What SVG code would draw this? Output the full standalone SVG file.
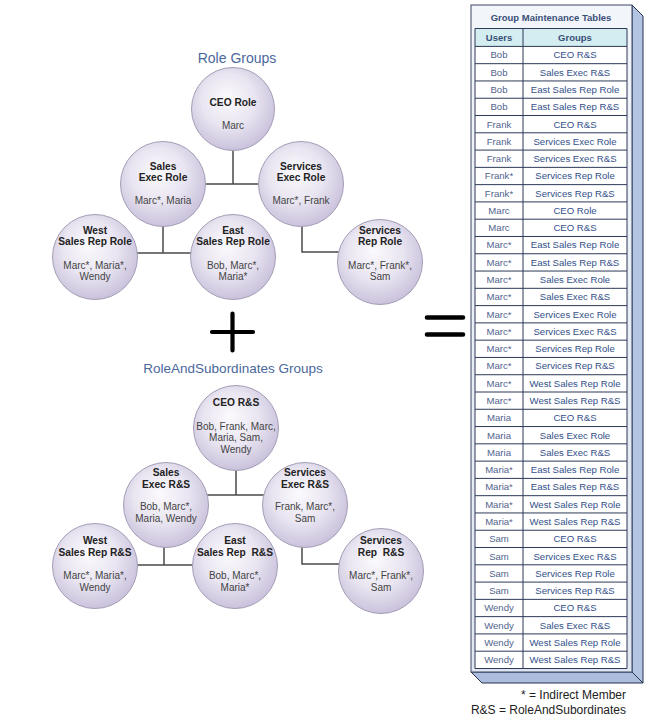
<svg xmlns="http://www.w3.org/2000/svg" width="651" height="722" viewBox="0 0 651 722">
<defs>
<radialGradient id="bub" cx="0.46" cy="0.42" r="0.58" fx="0.42" fy="0.36">
<stop offset="0" stop-color="#fbfafd"/>
<stop offset="0.55" stop-color="#e9e5f1"/>
<stop offset="1" stop-color="#cac2dc"/>
</radialGradient>
<linearGradient id="front" x1="0" y1="0" x2="0" y2="1">
<stop offset="0" stop-color="#f2f5fa"/>
<stop offset="1" stop-color="#e1e7f2"/>
</linearGradient>
</defs>
<style>
text{font-family:"Liberation Sans",Arial,sans-serif;text-anchor:middle}
.bub{fill:url(#bub);stroke:#a49db6;stroke-width:1}
.t{font-size:10.2px;font-weight:bold;fill:#222}
.m{font-size:10px;fill:#444}
.h{font-size:14px;fill:#4a689b}
.con{fill:none;stroke:#4a4a4a;stroke-width:1.5}
.op{fill:none;stroke:#000;stroke-width:4.2;stroke-linecap:round}
.side{fill:#b2c4e2;stroke:#27334e;stroke-width:1}
.tb{font-size:9.5px;font-weight:bold;fill:#3a5078}
.u{font-size:9.6px;fill:#52648e}
.g{font-size:9.6px;fill:#33508a}
.grid{fill:none;stroke:#2c3957;stroke-width:1}
.fn{font-size:12px;fill:#222;text-anchor:end}
</style>
<rect width="651" height="722" fill="#fff"/>

<text class="h" x="237" y="63">Role Groups</text>
<text class="h" x="233" y="373" style="font-size:13.5px">RoleAndSubordinates Groups</text>

<g id="connectors">
<path class="con" d="M233 150V184M163 184H301M163 226V253M95 253H233M302 226V252H380"/>
<path class="con" d="M236 470V495M166 495H305M164 547V565M95 565H235M302 547V564H381"/>
</g>

<g id="ceo-role"><circle class="bub" cx="233" cy="109" r="41.5"/>
<text class="t" x="233" y="105.5">CEO Role</text><text class="m" x="233" y="128.5">Marc</text></g>
<g id="sales-exec-role"><circle class="bub" cx="163" cy="184" r="42.5"/>
<text class="t" x="163" y="169.5">Sales</text><text class="t" x="163" y="181">Exec Role</text><text class="m" x="163" y="204">Marc*, Maria</text></g>
<g id="services-exec-role"><circle class="bub" cx="301" cy="184" r="42.5"/>
<text class="t" x="301" y="169.5">Services</text><text class="t" x="301" y="181">Exec Role</text><text class="m" x="301" y="204">Marc*, Frank</text></g>
<g id="west-sales-rep-role"><circle class="bub" cx="95" cy="257" r="42.5"/>
<text class="t" x="95" y="233.5">West</text><text class="t" x="95" y="245">Sales Rep Role</text><text class="m" x="95" y="268.5">Marc*, Maria*,</text><text class="m" x="95" y="280">Wendy</text></g>
<g id="east-sales-rep-role"><circle class="bub" cx="233" cy="257" r="42.5"/>
<text class="t" x="233" y="233.5">East</text><text class="t" x="233" y="245">Sales Rep Role</text><text class="m" x="233" y="268.5">Bob, Marc*,</text><text class="m" x="233" y="280">Maria*</text></g>
<g id="services-rep-role"><circle class="bub" cx="380" cy="262" r="42.5"/>
<text class="t" x="380" y="233.5">Services</text><text class="t" x="380" y="245">Rep Role</text><text class="m" x="380" y="268.5">Marc*, Frank*,</text><text class="m" x="380" y="280">Sam</text></g>

<g id="ceo-rs"><circle class="bub" cx="236" cy="428" r="42.5"/>
<text class="t" x="236" y="406">CEO R&amp;S</text><text class="m" x="236" y="429.5">Bob, Frank, Marc,</text><text class="m" x="236" y="441">Maria, Sam,</text><text class="m" x="236" y="452.5">Wendy</text></g>
<g id="sales-exec-rs"><circle class="bub" cx="166" cy="505" r="42.5"/>
<text class="t" x="166" y="476">Sales</text><text class="t" x="166" y="487.5">Exec R&amp;S</text><text class="m" x="166" y="510">Bob, Marc*,</text><text class="m" x="166" y="521.5">Maria, Wendy</text></g>
<g id="services-exec-rs"><circle class="bub" cx="305" cy="505" r="42.5"/>
<text class="t" x="305" y="476">Services</text><text class="t" x="305" y="487.5">Exec R&amp;S</text><text class="m" x="305" y="510">Frank, Marc*,</text><text class="m" x="305" y="521.5">Sam</text></g>
<g id="west-sales-rep-rs"><circle class="bub" cx="95" cy="566" r="42.5"/>
<text class="t" x="95" y="544">West</text><text class="t" x="95" y="555.5">Sales Rep R&amp;S</text><text class="m" x="95" y="579">Marc*, Maria*,</text><text class="m" x="95" y="590.5">Wendy</text></g>
<g id="east-sales-rep-rs"><circle class="bub" cx="235" cy="566" r="42.5"/>
<text class="t" x="235" y="544">East</text><text class="t" x="235" y="555.5" xml:space="preserve">Sales Rep  R&amp;S</text><text class="m" x="235" y="579">Bob, Marc*,</text><text class="m" x="235" y="590.5">Maria*</text></g>
<g id="services-rep-rs"><circle class="bub" cx="381" cy="571" r="42.5"/>
<text class="t" x="381" y="544">Services</text><text class="t" x="381" y="555.5" xml:space="preserve">Rep  R&amp;S</text><text class="m" x="381" y="579">Marc*, Frank*,</text><text class="m" x="381" y="590.5">Sam</text></g>

<g id="plus"><path class="op" d="M212 332H253M232.5 313.5V350.5"/></g>
<g id="equals"><path class="op" d="M427 317.5H463M427 334.5H463" style="stroke-width:4.6"/></g>

<g id="table">
<polygon class="side" points="632,5 643,16 643,683 632,672"/>
<polygon class="side" points="471,672 632,672 643,683 482,683" style="fill:#abbedd"/>
<rect x="471" y="5" width="161" height="667" fill="url(#front)" stroke="#3a4762" stroke-width="1"/>
<text class="tb" x="551" y="20.5">Group Maintenance Tables</text>
<rect x="475" y="28.5" width="152" height="17.9" fill="#d4edf0"/>
<rect x="475" y="46.4" width="152" height="622.1" fill="#fff"/>
<text class="tb" x="499" y="41">Users</text>
<text class="tb" x="575" y="41">Groups</text>
<path class="grid" d="M475 28.5H627V668.5H475ZM523 28.5V668.5M475 46.4H627M475 63.68H627M475 80.96H627M475 98.24H627M475 115.52H627M475 132.8H627M475 150.08H627M475 167.36H627M475 184.64H627M475 201.92H627M475 219.2H627M475 236.48H627M475 253.76H627M475 271.04H627M475 288.32H627M475 305.6H627M475 322.88H627M475 340.16H627M475 357.44H627M475 374.72H627M475 392H627M475 409.28H627M475 426.56H627M475 443.84H627M475 461.12H627M475 478.4H627M475 495.68H627M475 512.96H627M475 530.24H627M475 547.52H627M475 564.8H627M475 582.08H627M475 599.36H627M475 616.64H627M475 633.92H627M475 651.2H627"/>
<g class="rows">
<text class="u" x="499" y="58.4">Bob</text><text class="g" x="575" y="58.4">CEO R&amp;S</text>
<text class="u" x="499" y="75.68">Bob</text><text class="g" x="575" y="75.68">Sales Exec R&amp;S</text>
<text class="u" x="499" y="92.96">Bob</text><text class="g" x="575" y="92.96">East Sales Rep Role</text>
<text class="u" x="499" y="110.24">Bob</text><text class="g" x="575" y="110.24">East Sales Rep R&amp;S</text>
<text class="u" x="499" y="127.52">Frank</text><text class="g" x="575" y="127.52">CEO R&amp;S</text>
<text class="u" x="499" y="144.8">Frank</text><text class="g" x="575" y="144.8">Services Exec Role</text>
<text class="u" x="499" y="162.08">Frank</text><text class="g" x="575" y="162.08">Services Exec R&amp;S</text>
<text class="u" x="499" y="179.36">Frank*</text><text class="g" x="575" y="179.36">Services Rep Role</text>
<text class="u" x="499" y="196.64">Frank*</text><text class="g" x="575" y="196.64">Services Rep R&amp;S</text>
<text class="u" x="499" y="213.92">Marc</text><text class="g" x="575" y="213.92">CEO Role</text>
<text class="u" x="499" y="231.2">Marc</text><text class="g" x="575" y="231.2">CEO R&amp;S</text>
<text class="u" x="499" y="248.48">Marc*</text><text class="g" x="575" y="248.48">East Sales Rep Role</text>
<text class="u" x="499" y="265.76">Marc*</text><text class="g" x="575" y="265.76">East Sales Rep R&amp;S</text>
<text class="u" x="499" y="283.04">Marc*</text><text class="g" x="575" y="283.04">Sales Exec Role</text>
<text class="u" x="499" y="300.32">Marc*</text><text class="g" x="575" y="300.32">Sales Exec R&amp;S</text>
<text class="u" x="499" y="317.6">Marc*</text><text class="g" x="575" y="317.6">Services Exec Role</text>
<text class="u" x="499" y="334.88">Marc*</text><text class="g" x="575" y="334.88">Services Exec R&amp;S</text>
<text class="u" x="499" y="352.16">Marc*</text><text class="g" x="575" y="352.16">Services Rep Role</text>
<text class="u" x="499" y="369.44">Marc*</text><text class="g" x="575" y="369.44">Services Rep R&amp;S</text>
<text class="u" x="499" y="386.72">Marc*</text><text class="g" x="575" y="386.72">West Sales Rep Role</text>
<text class="u" x="499" y="404">Marc*</text><text class="g" x="575" y="404">West Sales Rep R&amp;S</text>
<text class="u" x="499" y="421.28">Maria</text><text class="g" x="575" y="421.28">CEO R&amp;S</text>
<text class="u" x="499" y="438.56">Maria</text><text class="g" x="575" y="438.56">Sales Exec Role</text>
<text class="u" x="499" y="455.84">Maria</text><text class="g" x="575" y="455.84">Sales Exec R&amp;S</text>
<text class="u" x="499" y="473.12">Maria*</text><text class="g" x="575" y="473.12">East Sales Rep Role</text>
<text class="u" x="499" y="490.4">Maria*</text><text class="g" x="575" y="490.4">East Sales Rep R&amp;S</text>
<text class="u" x="499" y="507.68">Maria*</text><text class="g" x="575" y="507.68">West Sales Rep Role</text>
<text class="u" x="499" y="524.96">Maria*</text><text class="g" x="575" y="524.96">West Sales Rep R&amp;S</text>
<text class="u" x="499" y="542.24">Sam</text><text class="g" x="575" y="542.24">CEO R&amp;S</text>
<text class="u" x="499" y="559.52">Sam</text><text class="g" x="575" y="559.52">Services Exec R&amp;S</text>
<text class="u" x="499" y="576.8">Sam</text><text class="g" x="575" y="576.8">Services Rep Role</text>
<text class="u" x="499" y="594.08">Sam</text><text class="g" x="575" y="594.08">Services Rep R&amp;S</text>
<text class="u" x="499" y="611.36">Wendy</text><text class="g" x="575" y="611.36">CEO R&amp;S</text>
<text class="u" x="499" y="628.64">Wendy</text><text class="g" x="575" y="628.64">Sales Exec R&amp;S</text>
<text class="u" x="499" y="645.92">Wendy</text><text class="g" x="575" y="645.92">West Sales Rep Role</text>
<text class="u" x="499" y="663.2">Wendy</text><text class="g" x="575" y="663.2">West Sales Rep R&amp;S</text>
</g>
</g>

<g id="legend">
<text class="fn" x="626" y="698.5">* = Indirect Member</text>
<text class="fn" x="626" y="713.5">R&amp;S = RoleAndSubordinates</text>
</g>
</svg>
